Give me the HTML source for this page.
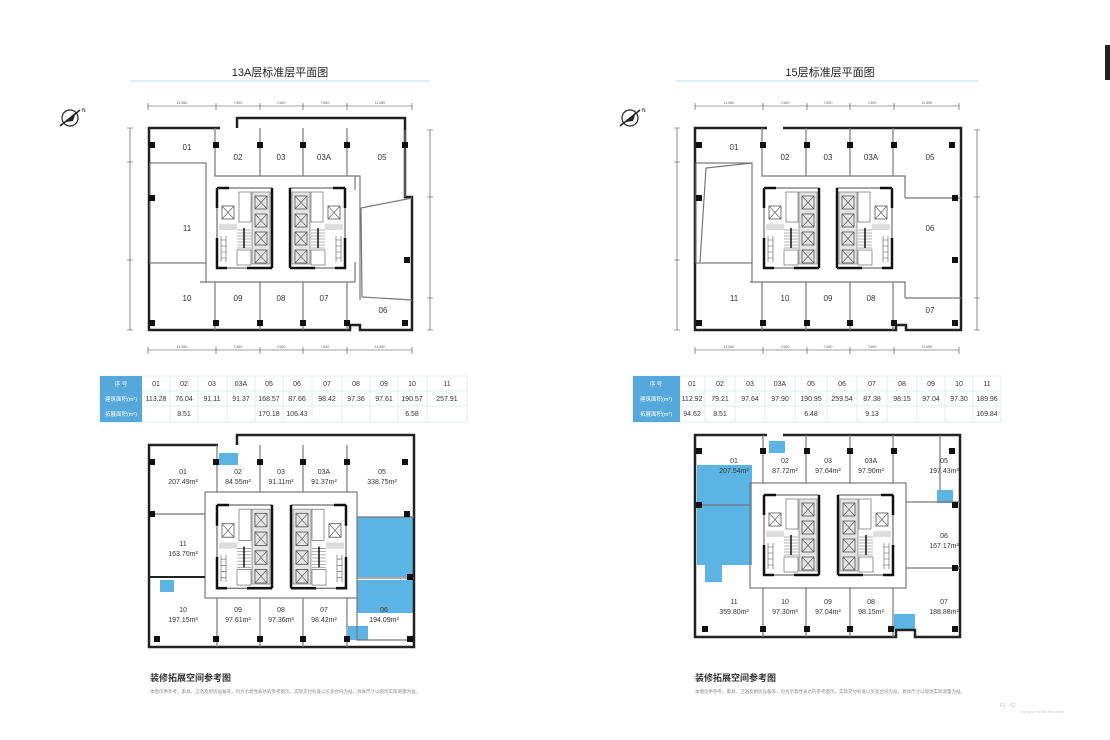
<!DOCTYPE html>
<html><head><meta charset="utf-8"><style>
body{margin:0;background:#fff;}
svg{display:block;font-family:"Liberation Sans","Noto Sans CJK SC",sans-serif;}
.t{font-size:8px;fill:#333;text-anchor:middle}
.a{font-size:7px;fill:#333;text-anchor:middle}
.d{font-size:4px;fill:#666;text-anchor:middle}
.w{fill:none;stroke:#222;stroke-width:2.5}
.p{fill:none;stroke:#777;stroke-width:1.2}
.c{fill:#111}
.tb{font-size:7px;fill:#333;text-anchor:middle}
</style></head><body>
<svg width="1110" height="740" viewBox="0 0 1110 740" xmlns="http://www.w3.org/2000/svg">
<defs>
<g id="elv"><rect width="12" height="13" fill="none" stroke="#555" stroke-width="0.8"/><path d="M0 0L12 13M12 0L0 13" stroke="#555" stroke-width="0.6"/></g>
<g id="coreL">
<rect x="0" y="0" width="55" height="80" fill="#fff" stroke="#222" stroke-width="0.8"/>
<path d="M0 0H12M0 0V20M0 50V80H10M55 0V80M30 80H55" stroke="#111" stroke-width="2.5" fill="none"/>
<rect x="35" y="4" width="18" height="72" fill="#e4e4e4" stroke="#666" stroke-width="0.6"/>
<use href="#elv" x="38" y="8"/><use href="#elv" x="38" y="26"/><use href="#elv" x="38" y="44"/><use href="#elv" x="38" y="62"/>
<use href="#elv" x="5" y="18"/>
<rect x="2" y="36" width="18" height="6" fill="#ddd"/>
<g stroke="#666" stroke-width="0.5"><path d="M20 42H34M20 45H34M20 48H34M20 51H34M20 54H34M20 57H34M20 60H34"/></g>
<path d="M27 40V60" stroke="#111" stroke-width="1.5"/>
<g stroke="#555" stroke-width="0.6" fill="none"><path d="M4 48V74M9 48V74M4 52H9M4 58H9M4 64H9M4 70H9"/><rect x="20" y="62" width="14" height="15"/><rect x="22" y="4" width="12" height="30"/></g>
</g>
<g id="coreR"><use href="#coreL" transform="translate(55,0) scale(-1,1)"/></g>
<g id="col"><rect x="-3" y="-3" width="6" height="6" fill="#111"/></g>
</defs>

<!-- right edge bar -->
<rect x="1105" y="45" width="5" height="35" fill="#222"/>

<!-- ===== TOP LEFT ===== -->
<text x="280" y="76" font-size="11" text-anchor="middle" fill="#222">13A层标准层平面图</text>
<line x1="130" y1="81" x2="430" y2="81" stroke="#bcdbe8" stroke-width="1"/>
<g transform="translate(70,118)"><circle r="8" fill="none" stroke="#222" stroke-width="1.2"/><path d="M-10 8L10 -8" stroke="#222" stroke-width="1.5"/><path d="M-4 4L6 -6L3 3Z" fill="#222"/><text x="12" y="-6" font-size="5">N</text></g>
<g id="dims" stroke="#444" stroke-width="0.6">
<path d="M148 106H412M148 103V110M216 103V110M260 103V110M303 103V110M347 103V110M412 103V110"/>
<path d="M148 350H412M148 347V354M216 347V354M260 347V354M303 347V354M347 347V354M412 347V354"/>
<path d="M130 128V330M127 128H133M127 162H133M127 260H133M127 330H133"/>
<path d="M430 130V330M427 130H433M427 197H433M427 298H433M427 330H433"/>
</g>
<g class="d"><text x="182" y="104">11350</text><text x="238" y="104">7400</text><text x="281" y="104">7400</text><text x="325" y="104">7400</text><text x="380" y="104">11350</text>
<text x="182" y="348">11350</text><text x="238" y="348">7400</text><text x="281" y="348">7400</text><text x="325" y="348">7400</text><text x="380" y="348">11350</text></g>
<g id="planA">
<path class="w" d="M220 128H149V330H350V325H360V330H412V197H405V118H237V128"/>
<g class="p"><path d="M215 128V176H355V190M260 128V176M303 128V176M347 128V176M405 130V197"/>
<path d="M200 282H355V262M215 282V330M260 282V330M303 282V330M347 282V330"/>
<rect x="150" y="163" width="56" height="100"/><path d="M206 263V282"/>
<path d="M361 208L412 198M361 208L362 297L412 300M355 176H360V300"/></g>
</g>
<use href="#coreL" x="217" y="188"/><use href="#coreR" x="290" y="188"/>
<g><use href="#col" x="152" y="145"/><use href="#col" x="216" y="145"/><use href="#col" x="260" y="145"/><use href="#col" x="303" y="145"/><use href="#col" x="347" y="145"/><use href="#col" x="405" y="145"/><use href="#col" x="152" y="198"/><use href="#col" x="152" y="323"/><use href="#col" x="216" y="323"/><use href="#col" x="260" y="323"/><use href="#col" x="303" y="323"/><use href="#col" x="347" y="323"/><use href="#col" x="407" y="260"/><use href="#col" x="405" y="323"/></g>
<g class="t"><text x="187" y="150">01</text><text x="238" y="160">02</text><text x="281" y="160">03</text><text x="324" y="160">03A</text><text x="382" y="160">05</text><text x="187" y="231">11</text><text x="187" y="301">10</text><text x="238" y="301">09</text><text x="281" y="301">08</text><text x="324" y="301">07</text><text x="383" y="313">06</text></g>

<!-- ===== TOP RIGHT ===== -->
<text x="830" y="76" font-size="11" text-anchor="middle" fill="#222">15层标准层平面图</text>
<line x1="676" y1="81" x2="978" y2="81" stroke="#bcdbe8" stroke-width="1"/>
<g transform="translate(630,118)"><circle r="8" fill="none" stroke="#222" stroke-width="1.2"/><path d="M-10 8L10 -8" stroke="#222" stroke-width="1.5"/><path d="M-4 4L6 -6L3 3Z" fill="#222"/><text x="12" y="-6" font-size="5">N</text></g>
<use href="#dims" x="547"/>
<g class="d"><text x="729" y="104">11350</text><text x="785" y="104">7400</text><text x="828" y="104">7400</text><text x="872" y="104">7400</text><text x="927" y="104">11350</text>
<text x="729" y="348">11350</text><text x="785" y="348">7400</text><text x="828" y="348">7400</text><text x="872" y="348">7400</text><text x="927" y="348">11350</text></g>
<path class="w" d="M767 128H695V330H896V325H906V330H961V128H783"/>
<g class="p"><path d="M762 128V176H905V198M806 128V176M850 128V176M893 128V176"/>
<path d="M750 282H905V298M762 282V330M806 282V330M850 282V330M893 282V330"/>
<rect x="696" y="163" width="56" height="100"/><path d="M700 262L706 168L752 163M752 263V282"/>
<path d="M905 198H961M905 298H961"/></g>
<use href="#coreL" x="764" y="188"/><use href="#coreR" x="837" y="188"/>
<g><use href="#col" x="699" y="145"/><use href="#col" x="763" y="145"/><use href="#col" x="807" y="145"/><use href="#col" x="850" y="145"/><use href="#col" x="894" y="145"/><use href="#col" x="952" y="145"/><use href="#col" x="699" y="198"/><use href="#col" x="699" y="323"/><use href="#col" x="763" y="323"/><use href="#col" x="807" y="323"/><use href="#col" x="850" y="323"/><use href="#col" x="894" y="323"/><use href="#col" x="955" y="260"/><use href="#col" x="955" y="323"/><use href="#col" x="955" y="198"/></g>
<g class="t"><text x="734" y="150">01</text><text x="785" y="160">02</text><text x="828" y="160">03</text><text x="871" y="160">03A</text><text x="930" y="160">05</text><text x="930" y="231">06</text><text x="734" y="301">11</text><text x="785" y="301">10</text><text x="828" y="301">09</text><text x="871" y="301">08</text><text x="930" y="313">07</text></g>

<!-- ===== TABLES ===== -->
<g stroke="#dde6ec" stroke-width="0.8" fill="none">
<rect x="100" y="376" width="367" height="46"/><path d="M100 391H467M100 406H467M142 376V422M170 376V422M198 376V422M227 376V422M255 376V422M283 376V422M312 376V422M342 376V422M370 376V422M398 376V422M427 376V422"/>
<rect x="633" y="376" width="368" height="46"/><path d="M633 391H1001M633 406H1001M680 376V422M705 376V422M735 376V422M765 376V422M795 376V422M827 376V422M857 376V422M887 376V422M917 376V422M945 376V422M973 376V422"/>
</g>
<rect x="100" y="376" width="42" height="46" fill="#55a8db"/><rect x="633" y="376" width="47" height="46" fill="#55a8db"/>
<g font-size="5.5" fill="#fff" text-anchor="middle"><text x="121" y="386">序 号</text><text x="121" y="401">建筑面积(m²)</text><text x="121" y="416">拓展面积(m²)</text>
<text x="656" y="386">序 号</text><text x="656" y="401">建筑面积(m²)</text><text x="656" y="416">拓展面积(m²)</text></g>
<g class="tb">
<text x="156" y="386">01</text><text x="184" y="386">02</text><text x="212" y="386">03</text><text x="241" y="386">03A</text><text x="269" y="386">05</text><text x="297" y="386">06</text><text x="327" y="386">07</text><text x="356" y="386">08</text><text x="384" y="386">09</text><text x="412" y="386">10</text><text x="447" y="386">11</text>
<text x="156" y="401">113.28</text><text x="184" y="401">76.04</text><text x="212" y="401">91.11</text><text x="241" y="401">91.37</text><text x="269" y="401">168.57</text><text x="297" y="401">87.66</text><text x="327" y="401">98.42</text><text x="356" y="401">97.36</text><text x="384" y="401">97.61</text><text x="412" y="401">190.57</text><text x="447" y="401">257.91</text>
<text x="184" y="416">8.51</text><text x="269" y="416">170.18</text><text x="297" y="416">106.43</text><text x="412" y="416">6.58</text>
<text x="692" y="386">01</text><text x="720" y="386">02</text><text x="750" y="386">03</text><text x="780" y="386">03A</text><text x="811" y="386">05</text><text x="842" y="386">06</text><text x="872" y="386">07</text><text x="902" y="386">08</text><text x="931" y="386">09</text><text x="959" y="386">10</text><text x="987" y="386">11</text>
<text x="692" y="401">112.92</text><text x="720" y="401">79.21</text><text x="750" y="401">97.64</text><text x="780" y="401">97.90</text><text x="811" y="401">190.95</text><text x="842" y="401">259.54</text><text x="872" y="401">87.38</text><text x="902" y="401">98.15</text><text x="931" y="401">97.04</text><text x="959" y="401">97.30</text><text x="987" y="401">189.96</text>
<text x="692" y="416">94.62</text><text x="720" y="416">8.51</text><text x="811" y="416">6.48</text><text x="872" y="416">9.13</text><text x="987" y="416">169.84</text>
</g>

<!-- ===== BOTTOM LEFT ===== -->
<g fill="#5bb4e3">
<rect x="219" y="453" width="19" height="12"/><rect x="160" y="580" width="14" height="12"/><rect x="357" y="517" width="57" height="60"/><rect x="357" y="580" width="57" height="33"/><rect x="348" y="626" width="20" height="14"/></g>
<path class="w" d="M218 445H149V647H414V435H237V445"/>
<g class="p"><rect x="205" y="492" width="152" height="106"/>
<path d="M217 445V492M260 445V492M303 445V492M347 445V492M217 598V647M260 598V647M303 598V647M347 598V647M149 514H205M357 578H414M357 517H414M357 598V640H410"/></g>
<path d="M149 577H205" stroke="#222" stroke-width="2"/>
<use href="#coreL" transform="translate(217,505) scale(1,1.04)"/><use href="#coreR" transform="translate(291,505) scale(1,1.04)"/>
<g><use href="#col" x="152" y="462"/><use href="#col" x="216" y="462"/><use href="#col" x="260" y="462"/><use href="#col" x="303" y="462"/><use href="#col" x="347" y="462"/><use href="#col" x="405" y="462"/><use href="#col" x="152" y="514"/><use href="#col" x="410" y="577"/><use href="#col" x="157" y="639"/><use href="#col" x="216" y="639"/><use href="#col" x="260" y="639"/><use href="#col" x="303" y="639"/><use href="#col" x="347" y="639"/><use href="#col" x="410" y="639"/><use href="#col" x="407" y="514"/></g>
<g class="a"><text x="183" y="474">01</text><text x="183" y="484">207.49m²</text><text x="238" y="474">02</text><text x="238" y="484">84.55m²</text><text x="281" y="474">03</text><text x="281" y="484">91.11m²</text><text x="324" y="474">03A</text><text x="324" y="484">91.37m²</text><text x="382" y="474">05</text><text x="382" y="484">338.75m²</text>
<text x="183" y="546">11</text><text x="183" y="556">163.70m²</text>
<text x="183" y="612">10</text><text x="183" y="622">197.15m²</text><text x="238" y="612">09</text><text x="238" y="622">97.61m²</text><text x="281" y="612">08</text><text x="281" y="622">97.36m²</text><text x="324" y="612">07</text><text x="324" y="622">98.42m²</text><text x="384" y="612">06</text><text x="384" y="622">194.09m²</text></g>
<text x="150" y="681" font-size="9" font-weight="bold" fill="#333">装修拓展空间参考图</text>
<text x="150" y="693" font-size="4.5" fill="#888">本图仅供参考，家具、卫浴及厨房设备等，均为示意性表达的参考图示。实际交付标准以买卖合同为准，具体尺寸以现场实际测量为准。</text>

<!-- ===== BOTTOM RIGHT ===== -->
<g fill="#5bb4e3">
<rect x="769" y="441" width="16" height="12"/><rect x="697" y="465" width="55" height="100"/><rect x="705" y="565" width="17" height="17"/><rect x="937" y="490" width="16" height="13"/><rect x="894" y="614" width="21" height="15"/></g>
<path class="w" d="M767 435H695V637H896V630H915V637H960V435H783"/>
<g class="p"><rect x="750" y="483" width="156" height="105"/>
<path d="M763 435V483M806 435V483M850 435V483M893 435V483M763 588V637M806 588V637M850 588V637M893 588V637M906 502H960M906 568H960M697 505H750M940 435V490"/></g>
<use href="#coreL" x="764" y="495"/><use href="#coreR" x="838" y="495"/>
<g><use href="#col" x="699" y="451"/><use href="#col" x="763" y="451"/><use href="#col" x="807" y="451"/><use href="#col" x="850" y="451"/><use href="#col" x="894" y="451"/><use href="#col" x="952" y="451"/><use href="#col" x="699" y="505"/><use href="#col" x="955" y="505"/><use href="#col" x="955" y="568"/><use href="#col" x="705" y="629"/><use href="#col" x="763" y="629"/><use href="#col" x="807" y="629"/><use href="#col" x="850" y="629"/><use href="#col" x="891" y="629"/><use href="#col" x="955" y="629"/></g>
<g class="a"><text x="734" y="463">01</text><text x="734" y="473">207.54m²</text><text x="785" y="463">02</text><text x="785" y="473">87.72m²</text><text x="828" y="463">03</text><text x="828" y="473">97.64m²</text><text x="871" y="463">03A</text><text x="871" y="473">97.90m²</text><text x="944" y="463">05</text><text x="944" y="473">197.43m²</text>
<text x="944" y="538">06</text><text x="944" y="548">167.17m²</text>
<text x="734" y="604">11</text><text x="734" y="614">359.80m²</text><text x="785" y="604">10</text><text x="785" y="614">97.30m²</text><text x="828" y="604">09</text><text x="828" y="614">97.04m²</text><text x="871" y="604">08</text><text x="871" y="614">98.15m²</text><text x="944" y="604">07</text><text x="944" y="614">188.88m²</text></g>
<text x="695" y="681" font-size="9" font-weight="bold" fill="#333">装修拓展空间参考图</text>
<text x="695" y="693" font-size="4.5" fill="#888">本图仅供参考，家具、卫浴及厨房设备等，均为示意性表达的参考图示。实际交付标准以买卖合同为准，具体尺寸以现场实际测量为准。</text>
<text x="1000" y="707" font-size="5" fill="#bbb">61 - 62</text>
<text x="1020" y="713" font-size="3.5" fill="#ccc">Shanghai Wealth Residence</text>
</svg>
</body></html>
